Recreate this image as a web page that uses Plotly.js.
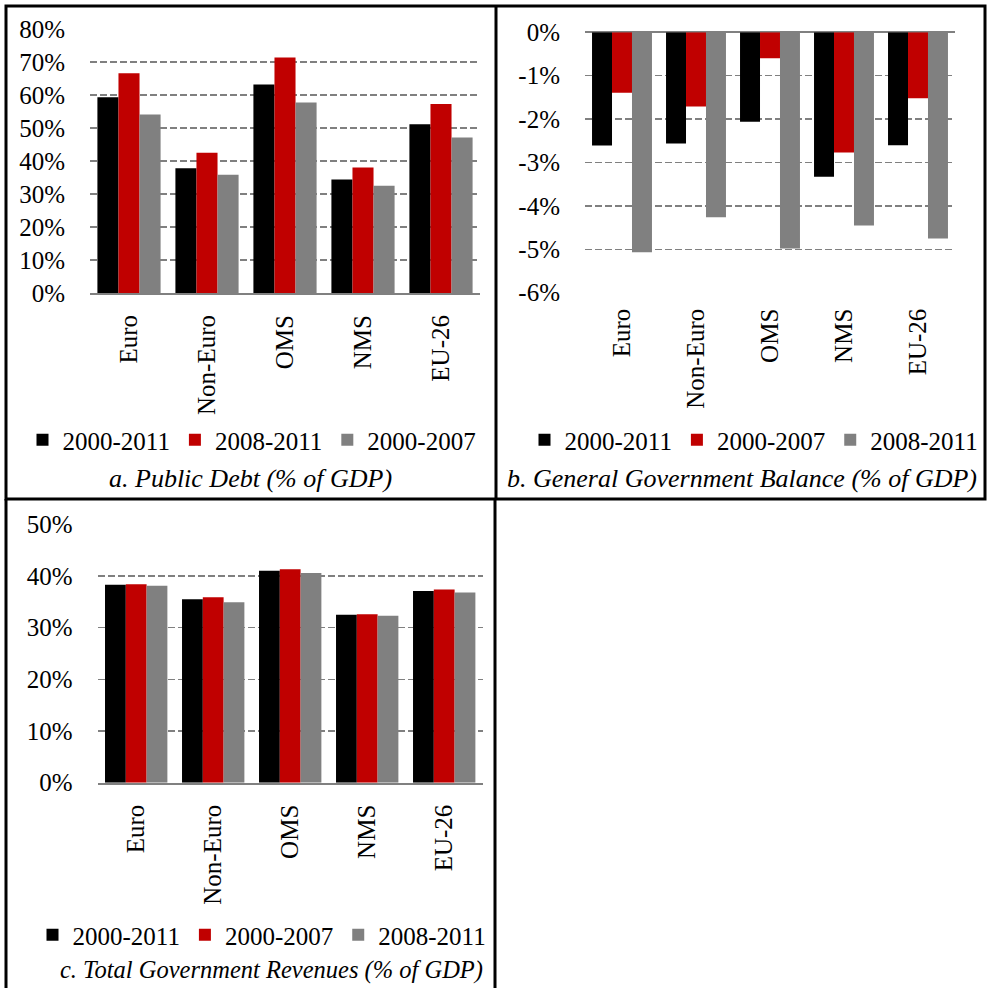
<!DOCTYPE html>
<html>
<head>
<meta charset="utf-8">
<script src="https://cdn.plot.ly/plotly-3.0.1.min.js"></script>
<style>html,body{margin:0;padding:0;background:#fff;overflow:hidden;}#chart{width:988px;height:988px;}</style>
</head>
<body>
<div id="chart"></div>
<script>
// ---- data ----
const categories = ["Euro", "Non-Euro", "OMS", "NMS", "EU-26"];

// a. Public Debt (% of GDP)
const debtNames = ["2000-2011", "2008-2011", "2000-2007"];
const debt_2000_2011 = [0.593, 0.378, 0.632, 0.344, 0.511];
const debt_2008_2011 = [0.666, 0.425, 0.714, 0.380, 0.573];
const debt_2000_2007 = [0.541, 0.358, 0.577, 0.325, 0.471];
const debtTickVals = [0, 0.1, 0.2, 0.3, 0.4, 0.5, 0.6, 0.7, 0.8];
const debtTickText = ["0%", "10%", "20%", "30%", "40%", "50%", "60%", "70%", "80%"];

// b. General Government Balance (% of GDP)
const balNames = ["2000-2011", "2000-2007", "2008-2011"];
const bal_2000_2011 = [-0.0261, -0.0256, -0.0206, -0.0333, -0.0260];
const bal_2000_2007 = [-0.0139, -0.0171, -0.0060, -0.0277, -0.0152];
const bal_2008_2011 = [-0.0507, -0.0426, -0.0498, -0.0445, -0.0475];
const balTickVals = [0, -0.01, -0.02, -0.03, -0.04, -0.05, -0.06];
const balTickText = ["0%", "-1%", "-2%", "-3%", "-4%", "-5%", "-6%"];

// c. Total Government Revenues (% of GDP)
const revNames = ["2000-2011", "2000-2007", "2008-2011"];
const rev_2000_2011 = [0.383, 0.355, 0.410, 0.325, 0.371];
const rev_2000_2007 = [0.384, 0.359, 0.413, 0.326, 0.374];
const rev_2008_2011 = [0.381, 0.349, 0.406, 0.323, 0.368];
const revTickVals = [0, 0.1, 0.2, 0.3, 0.4, 0.5];
const revTickText = ["0%", "10%", "20%", "30%", "40%", "50%"];

const panelTitles = [
  "a. Public Debt (% of GDP)",
  "b. General Government Balance (% of GDP)",
  "c. Total Government Revenues (% of GDP)"
];

// ---- styling ----
const BLACK = "#000000", RED = "#C00000", GREY = "#808080";
const FONT = "Liberation Serif";
const FS = 25;
const W = 988, H = 988;
const px = v => v / W;
const py = v => 1 - v / H;

function bar(name, y, color, xa, ya, leg) {
  return {
    type: "bar", name: name, x: categories, y: y,
    marker: {color: color, line: {width: 0}},
    xaxis: xa, yaxis: ya, legend: leg, hoverinfo: "skip"
  };
}

const data = [
  bar(debtNames[0], debt_2000_2011, BLACK, "x", "y", "legend"),
  bar(debtNames[1], debt_2008_2011, RED, "x", "y", "legend"),
  bar(debtNames[2], debt_2000_2007, GREY, "x", "y", "legend"),
  bar(balNames[0], bal_2000_2011, BLACK, "x2", "y2", "legend2"),
  bar(balNames[1], bal_2000_2007, RED, "x2", "y2", "legend2"),
  bar(balNames[2], bal_2008_2011, GREY, "x2", "y2", "legend2"),
  bar(revNames[0], rev_2000_2011, BLACK, "x3", "y3", "legend3"),
  bar(revNames[1], rev_2000_2007, RED, "x3", "y3", "legend3"),
  bar(revNames[2], rev_2008_2011, GREY, "x3", "y3", "legend3")
];

function xax(domain, anchor, showline) {
  return {
    domain: domain, anchor: anchor, type: "category",
    tickangle: -90, ticks: "", ticklabelstandoff: 10,
    showgrid: false, zeroline: false,
    showline: showline, linecolor: GREY, linewidth: 2,
    tickfont: {family: FONT, size: FS, color: "#000"},
    fixedrange: true
  };
}
function yax(domain, anchor, range, vals, text, zeroline) {
  return {
    domain: domain, anchor: anchor, range: range,
    tickvals: vals, ticktext: text, ticks: "", ticklabelstandoff: 24,
    showgrid: true, gridcolor: GREY, gridwidth: 1.5, griddash: "7px,3px",
    zeroline: zeroline, zerolinecolor: GREY, zerolinewidth: 2,
    showline: false,
    tickfont: {family: FONT, size: FS, color: "#000"},
    fixedrange: true
  };
}

const legendBase = (x, y) => ({
  orientation: "h", x: x, y: y, xanchor: "center", yanchor: "middle",
  font: {family: FONT, size: FS, color: "#000"},
  bgcolor: "rgba(0,0,0,0)", itemwidth: 30, tracegroupgap: 0,
  traceorder: "normal", itemclick: false, itemdoubleclick: false
});

const titleFont = {family: FONT, size: 26, color: "#000", style: "italic"};
const titleFontC = {family: FONT, size: 24.5, color: "#000", style: "italic"};

const layout = {
  width: W, height: H,
  margin: {l: 0, r: 0, t: 0, b: 0},
  paper_bgcolor: "#fff", plot_bgcolor: "#fff",
  font: {family: FONT, size: FS, color: "#000"},
  barmode: "group", bargap: 0.19, bargroupgap: 0,
  showlegend: true,
  xaxis: xax([px(90), px(480)], "y", true),
  yaxis: yax([py(293), py(29)], "x", [0, 0.8], debtTickVals, debtTickText, false),
  xaxis2: xax([px(585), px(955)], "y2", false),
  yaxis2: yax([py(292.7), py(32.3)], "x2", [-0.06, 0], balTickVals, balTickText, true),
  xaxis3: xax([px(97.7), px(482.7)], "y3", true),
  yaxis3: yax([py(782.7), py(524.3)], "x3", [0, 0.5], revTickVals, revTickText, false),
  legend: legendBase(px(252), py(440)),
  legend2: legendBase(px(754), py(440)),
  legend3: legendBase(px(262), py(935)),
  annotations: [
    {text: panelTitles[0], x: px(250), y: py(478), xref: "paper", yref: "paper",
     xanchor: "center", yanchor: "middle", showarrow: false, font: titleFont},
    {text: panelTitles[1], x: px(741.5), y: py(478), xref: "paper", yref: "paper",
     xanchor: "center", yanchor: "middle", showarrow: false, font: titleFont},
    {text: panelTitles[2], x: px(271), y: py(970), xref: "paper", yref: "paper",
     xanchor: "center", yanchor: "middle", showarrow: false, font: titleFontC}
  ],
  shapes: [
    {type: "rect", xref: "paper", yref: "paper", x0: px(6), x1: px(985), y0: py(499), y1: py(6),
     line: {color: "#000", width: 3}, layer: "above"},
    {type: "line", xref: "paper", yref: "paper", x0: px(496), x1: px(496), y0: py(499), y1: py(6),
     line: {color: "#000", width: 3}, layer: "above"},
    {type: "line", xref: "paper", yref: "paper", x0: px(6), x1: px(6), y0: py(499), y1: py(995),
     line: {color: "#000", width: 3}, layer: "above"},
    {type: "line", xref: "paper", yref: "paper", x0: px(495), x1: px(495), y0: py(499), y1: py(995),
     line: {color: "#000", width: 3}, layer: "above"}
  ]
};

Plotly.newPlot("chart", data, layout, {staticPlot: true, displayModeBar: false});
</script>
</body>
</html>
